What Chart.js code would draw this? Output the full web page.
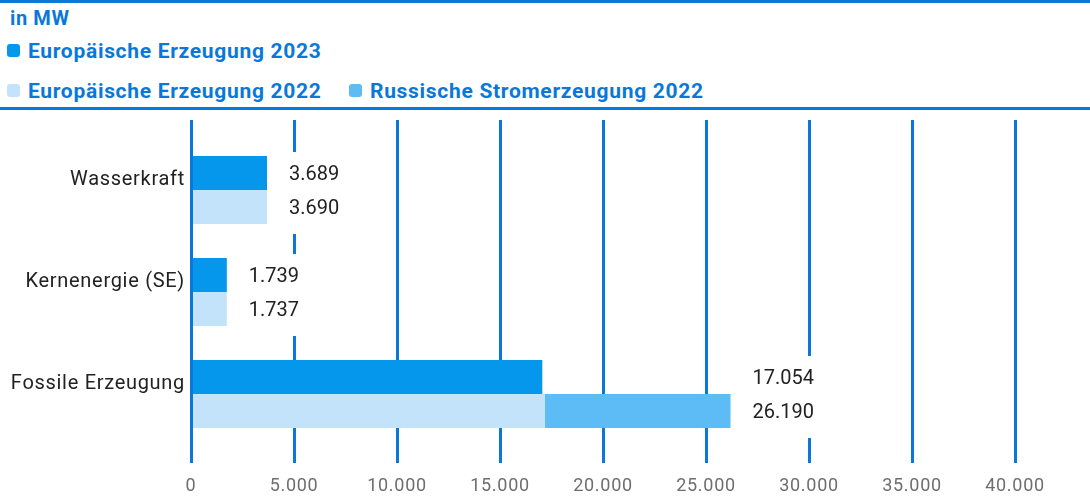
<!DOCTYPE html>
<html lang="de">
<head>
<meta charset="utf-8">
<script src="https://cdn.jsdelivr.net/npm/chart.js@4/dist/chart.umd.min.js"></script>
<style>
  html, body { margin: 0; padding: 0; background: #fff; }
  body { width: 1090px; height: 499px; position: relative; overflow: hidden; font-family: Roboto, sans-serif; }
  #topline { position: absolute; left: 0; top: 0; width: 1090px; height: 3px; background: #0a78d8; }
  #midline { position: absolute; left: 0; top: 107px; width: 1090px; height: 3px; background: #0a78d8; }
  #unit { position: absolute; left: 10px; top: 6px; font-size: 20px; letter-spacing: 0.6px; font-weight: bold; color: #0a78d8; }
  .leg { position: absolute; font-size: 21px; letter-spacing: 0.7px; font-weight: bold; color: #0a78d8; white-space: nowrap; }
  .leg i { position: absolute; left: -21px; top: 5px; width: 13px; height: 13px; border-radius: 3px; }
  #chart { position: absolute; left: 0; top: 0; }
</style>
</head>
<body>
<div id="topline"></div>
<div id="unit">in MW</div>
<div id="legend"></div>
<div id="midline"></div>
<canvas id="chart" width="1090" height="499"></canvas>
<script>
  var categories = ['Wasserkraft', 'Kernenergie (SE)', 'Fossile Erzeugung'];
  var seriesNames = ['Europäische Erzeugung 2023', 'Europäische Erzeugung 2022', 'Russische Stromerzeugung 2022'];
  var eu2023 = [3689, 1739, 17054];
  var eu2022 = [3690, 1737, 17180];
  var ru2022 = [0, 0, 9010];
  var xTicks = [0, 5000, 10000, 15000, 20000, 25000, 30000, 35000, 40000];

  var colors = ['#0497ec', '#c2e3fa', '#5dbbf6'];
  var blue = '#0a78d8';

  function fmt(v) { return v.toLocaleString('de-DE'); }

  // legend: first series alone on row 1, the two 2022 series on row 2
  var legPos = [[28, 39], [28, 79], [370, 79]];
  var legEl = document.getElementById('legend');
  seriesNames.forEach(function (name, i) {
    var d = document.createElement('div');
    d.className = 'leg';
    d.style.left = legPos[i][0] + 'px';
    d.style.top = legPos[i][1] + 'px';
    d.innerHTML = '<i style="background:' + colors[i] + '"></i>';
    d.appendChild(document.createTextNode(name));
    legEl.appendChild(d);
  });

  var gridPlugin = {
    id: 'gridLines',
    beforeDraw: function (chart) {
      // DIN-like wider spacing for the axis labels
      chart.ctx.letterSpacing = '0.7px';
    },
    beforeDatasetsDraw: function (chart) {
      var ctx = chart.ctx, xs = chart.scales.x;
      ctx.letterSpacing = '0px';
      ctx.save();
      ctx.strokeStyle = blue;
      ctx.lineWidth = 3;
      xTicks.forEach(function (t) {
        if (t === 0) return;
        var px = Math.round(xs.getPixelForValue(t)) + 0.5;
        ctx.beginPath();
        ctx.moveTo(px, 120);
        ctx.lineTo(px, 463);
        ctx.stroke();
      });
      ctx.restore();
    },
    afterDatasetsDraw: function (chart) {
      var ctx = chart.ctx, xs = chart.scales.x, ys = chart.scales.y;
      ctx.save();
      // zero line on top of the bars
      var p0 = Math.round(xs.getPixelForValue(0)) + 0.5;
      ctx.strokeStyle = blue;
      ctx.lineWidth = 3;
      ctx.beginPath();
      ctx.moveTo(p0, 120);
      ctx.lineTo(p0, 463);
      ctx.stroke();

      // value labels with white box behind them
      ctx.font = '20px Roboto';
      ctx.textBaseline = 'middle';
      ctx.textAlign = 'left';
      var m0 = chart.getDatasetMeta(0), m1 = chart.getDatasetMeta(1);
      categories.forEach(function (c, i) {
        var tot22 = eu2022[i] + ru2022[i];
        var end = Math.max(eu2023[i], tot22);
        var x = xs.getPixelForValue(end) + 22;
        var yc = ys.getPixelForValue(i);
        var t1 = fmt(eu2023[i]), t2 = fmt(tot22);
        var w = Math.max(ctx.measureText(t1).width, ctx.measureText(t2).width);
        ctx.fillStyle = '#fff';
        ctx.fillRect(x - 6, yc - 38, w + 12, 82);
        ctx.fillStyle = '#222';
        ctx.fillText(t1, x, m0.data[i].y + 2);
        ctx.fillText(t2, x, m1.data[i].y + 2);
      });
      ctx.restore();
    }
  };

  new Chart(document.getElementById('chart'), {
    type: 'bar',
    data: {
      labels: categories,
      datasets: [
        { label: seriesNames[0], data: eu2023, backgroundColor: colors[0], stack: 'a' },
        { label: seriesNames[1], data: eu2022, backgroundColor: colors[1], stack: 'b' },
        { label: seriesNames[2], data: ru2022, backgroundColor: colors[2], stack: 'b' }
      ]
    },
    options: {
      indexAxis: 'y',
      responsive: false,
      animation: false,
      events: [],
      categoryPercentage: 0.667,
      barPercentage: 1,
      layout: { padding: { top: 139, right: 75, left: 0, bottom: 0 } },
      plugins: { legend: { display: false }, tooltip: { enabled: false } },
      scales: {
        x: {
          stacked: true,
          min: 0,
          max: 40000,
          afterBuildTicks: function (axis) {
            axis.ticks = xTicks.map(function (v) { return { value: v }; });
          },
          afterFit: function (axis) { axis.height = 54; },
          grid: { display: false, drawTicks: false },
          border: { display: false },
          ticks: {
            padding: 31,
            color: '#6e6e6e',
            font: { family: 'Roboto', size: 18 },
            maxRotation: 0,
            callback: function (v) { return fmt(v); }
          }
        },
        y: {
          stacked: true,
          afterFit: function (axis) { axis.width = 191; },
          grid: { display: false, drawTicks: false },
          border: { display: false },
          ticks: {
            padding: 6,
            labelOffset: -10,
            color: '#222',
            font: { family: 'Roboto', size: 20 }
          }
        }
      }
    },
    plugins: [gridPlugin]
  });
</script>
</body>
</html>
